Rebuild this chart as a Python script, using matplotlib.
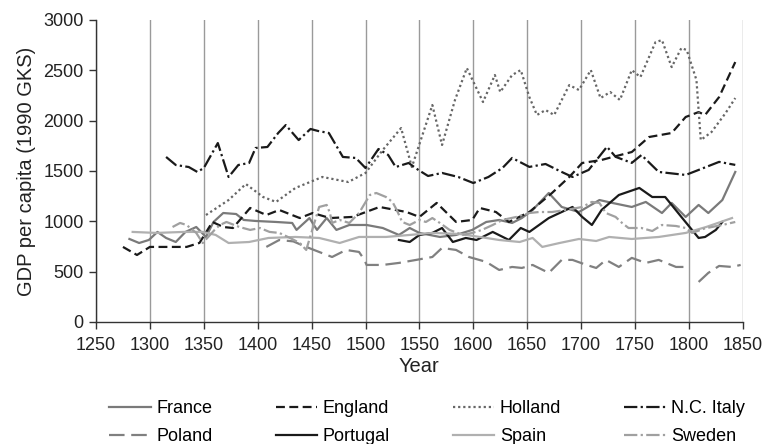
import numpy as np
import matplotlib
matplotlib.use("Agg")
import matplotlib.pyplot as plt

plt.rcParams['font.family'] = ['Liberation Sans', 'DejaVu Sans']

# GDP per capita (1990 GKS)
france_years = [1281,1290,1299,1307,1315,1324,1333,1343,1352,1359,1368,1380,1387,1398,1417,1432,1436,1448,1455,1464,1473,1485,1501,1516,1531,1541,1550,1569,1584,1599,1612,1624,1636,1645,1655,1670,1682,1698,1717,1729,1747,1760,1775,1784,1797,1809,1818,1831,1843]
france_gdp = [824,784,814,894,834,794,894,943,844,993,1082,1072,1013,1003,993,983,914,1032,914,1032,914,963,963,933,864,933,884,844,864,914,993,1013,983,1032,1112,1281,1142,1092,1211,1182,1142,1192,1082,1182,1043,1162,1082,1211,1490]

england_years = [1275,1288,1300,1334,1346,1358,1368,1377,1393,1408,1420,1439,1451,1467,1488,1513,1538,1550,1566,1584,1599,1606,1621,1633,1652,1673,1689,1701,1719,1729,1747,1763,1784,1797,1809,1815,1828,1843]
england_gdp = [745,665,745,745,785,993,943,933,1132,1062,1112,1032,1082,1032,1043,1142,1092,1043,1182,993,1013,1132,1092,993,1092,1281,1440,1579,1609,1638,1688,1837,1877,2036,2085,2056,2234,2582]

holland_years = [1352,1373,1389,1405,1417,1435,1460,1484,1500,1516,1533,1543,1562,1571,1583,1594,1609,1620,1625,1636,1644,1652,1659,1667,1675,1689,1698,1709,1718,1727,1736,1747,1755,1769,1775,1784,1793,1798,1807,1811,1821,1834,1843]
holland_gdp = [1062,1211,1370,1241,1192,1331,1440,1390,1480,1708,1926,1539,2155,1758,2205,2522,2185,2453,2284,2453,2502,2234,2056,2105,2056,2353,2304,2502,2224,2284,2205,2502,2433,2780,2800,2532,2721,2701,2403,1807,1887,2075,2224]

italy_years = [1315,1324,1336,1344,1350,1363,1373,1382,1392,1398,1409,1419,1426,1438,1449,1456,1466,1479,1491,1500,1512,1521,1528,1540,1549,1558,1571,1586,1600,1614,1627,1636,1652,1667,1680,1692,1707,1724,1732,1747,1756,1772,1797,1809,1828,1843]
italy_gdp = [1639,1559,1539,1490,1529,1777,1440,1559,1579,1728,1738,1877,1956,1807,1917,1897,1877,1639,1629,1529,1718,1659,1539,1579,1510,1450,1480,1440,1380,1440,1529,1629,1540,1569,1500,1440,1510,1740,1640,1580,1658,1490,1460,1510,1590,1560]

poland_years = [1408,1420,1433,1445,1457,1469,1482,1494,1499,1501,1516,1531,1547,1562,1571,1584,1596,1612,1624,1636,1645,1655,1670,1682,1692,1705,1714,1723,1735,1747,1760,1772,1788,1797,1803,1809,1818,1828,1840,1848]
poland_gdp = [745,814,800,745,695,645,715,695,616,566,566,586,616,645,735,715,645,596,516,546,536,566,487,616,616,566,536,616,546,636,586,616,546,546,np.nan,397,487,556,546,566]

portugal_years = [1531,1541,1550,1562,1571,1581,1593,1603,1618,1633,1644,1652,1670,1692,1701,1710,1719,1735,1754,1766,1778,1793,1809,1815,1825,1831]
portugal_gdp = [814,794,864,884,933,794,834,814,894,814,933,894,1032,1142,1043,963,1112,1261,1331,1241,1241,1043,834,844,914,993]

spain_years = [1284,1306,1331,1349,1361,1373,1392,1410,1435,1457,1476,1494,1519,1541,1562,1587,1606,1624,1643,1655,1664,1680,1698,1714,1726,1747,1772,1797,1816,1840]
spain_gdp = [894,884,894,894,864,784,794,834,844,834,784,844,844,864,884,874,844,814,794,834,745,784,824,804,844,824,844,884,943,1032]

sweden_years = [1321,1328,1334,1343,1349,1360,1365,1371,1383,1393,1402,1411,1420,1430,1439,1445,1457,1464,1467,1469,1476,1485,1494,1504,1510,1519,1525,1529,1534,1541,1550,1556,1562,1569,1578,1590,1599,1608,1618,1627,1640,1652,1661,1673,1686,1701,1710,1717,1723,1732,1738,1744,1756,1766,1775,1788,1797,1803,1815,1831,1843]
sweden_gdp = [943,983,963,884,784,914,963,993,943,914,933,894,884,834,784,715,1142,1162,1082,983,1013,983,1082,1261,1281,1241,1192,1112,993,963,1013,993,1032,983,914,864,884,914,963,1013,1043,1082,1092,1092,1112,1142,1192,1182,1082,1043,983,933,933,903,963,953,933,884,930,963,993]

x_ticks = list(range(1250, 1851, 50))
y_ticks = list(range(0, 3001, 500))

fig = plt.figure(figsize=(7.65, 4.44), dpi=100)
ax = fig.add_axes([0.1255, 0.275, 0.8455, 0.68])

lw = 1.6
dashdot = (0, (6, 1.5, 1, 1.5))
h = {}
h["France"], = ax.plot(france_years, france_gdp, color="#7a7a7a", lw=lw)
h["England"], = ax.plot(england_years, england_gdp, color="#1a1a1a", lw=lw, ls=(0, (4, 2)))
h["Holland"], = ax.plot(holland_years, holland_gdp, color="#666666", lw=lw, ls=(0, (1, 1.3)))
h["N.C. Italy"], = ax.plot(italy_years, italy_gdp, color="#1a1a1a", lw=lw, ls=dashdot)
h["Poland"], = ax.plot(poland_years, poland_gdp, color="#808080", lw=lw, ls=(0, (7, 3)))
h["Portugal"], = ax.plot(portugal_years, portugal_gdp, color="#1a1a1a", lw=lw)
h["Spain"], = ax.plot(spain_years, spain_gdp, color="#b0b0b0", lw=lw)
h["Sweden"], = ax.plot(sweden_years, sweden_gdp, color="#a0a0a0", lw=lw, ls=dashdot)

ax.set_xlim(1250, 1850)
ax.set_ylim(0, 3000)
ax.set_xticks(x_ticks)
ax.set_yticks(y_ticks)
ax.xaxis.grid(True, color="#9a9a9a", lw=1.0)
ax.set_axisbelow(True)
for s in ("top", "right"):
    ax.spines[s].set_visible(False)
for s in ("left", "bottom"):
    ax.spines[s].set_color("#333333")
    ax.spines[s].set_linewidth(1.0)
ax.tick_params(direction="out", length=5, width=1, color="#333333",
               labelsize=13, labelcolor="#222222", pad=4)
ax.tick_params(axis="x", pad=6)
ax.set_xlabel("Year", fontsize=14.5, color="#222222", labelpad=2)
ax.set_ylabel("GDP per capita (1990 GKS)", fontsize=14.5, color="#222222", labelpad=5)

# legend filled column-wise, so interleave to read row-wise
order = ["France", "Poland", "England", "Portugal", "Holland", "Spain", "N.C. Italy", "Sweden"]
ax.legend([h[k] for k in order], order, loc="upper center", bbox_to_anchor=(0.512, -0.235),
          ncol=4, frameon=False, fontsize=13, handlelength=2.3, handletextpad=0.3,
          columnspacing=3.5, labelspacing=0.6, borderaxespad=0)

fig.savefig("out.png", dpi=100)
